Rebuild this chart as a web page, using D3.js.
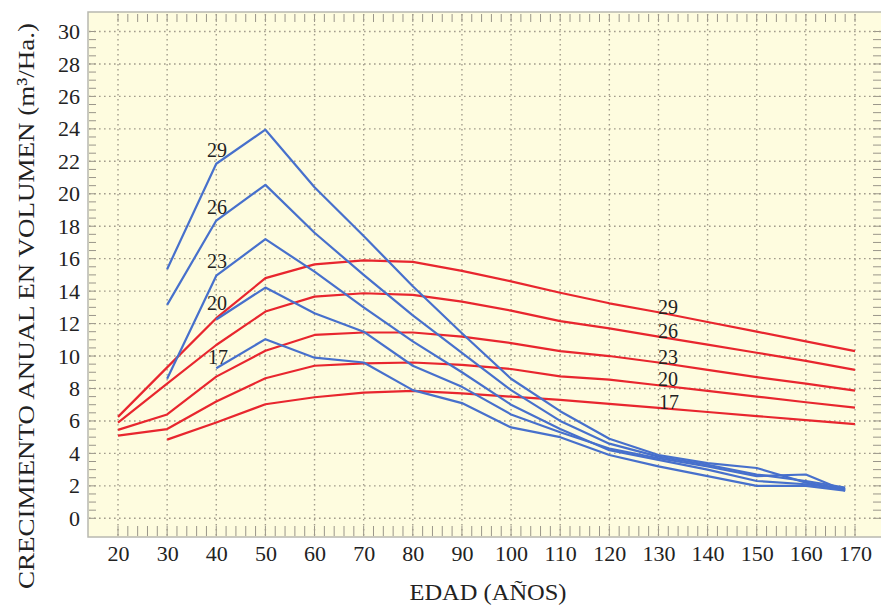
<!DOCTYPE html>
<html><head><meta charset="utf-8">
<script src="https://cdn.jsdelivr.net/npm/d3@7"></script>
<style>
html,body{margin:0;padding:0;background:#fff;}
svg{display:block;}
text{font-family:"Liberation Serif","Times New Roman",serif;fill:#222;}
</style></head>
<body>
<svg id="c" width="881" height="607"></svg>
<script>
// ---- data ----
const ages = [20,30,40,50,60,70,80,90,100,110,120,130,140,150,160,170];
const yTicks = [0,2,4,6,8,10,12,14,16,18,20,22,24,26,28,30];
const siteLabels = ["29","26","23","20","17"];

// red curves (annual volume growth by age)
const red29 = [6.25,9.3,12.33,14.8,15.65,15.9,15.8,15.25,14.6,13.9,13.25,12.7,12.1,11.5,10.9,10.3];
const red26 = [5.9,8.3,10.68,12.74,13.66,13.87,13.77,13.35,12.8,12.15,11.7,11.2,10.7,10.2,9.7,9.15];
const red23 = [5.45,6.4,8.73,10.33,11.3,11.45,11.45,11.2,10.8,10.3,10.0,9.6,9.15,8.7,8.3,7.87];
const red20 = [5.1,5.5,7.2,8.63,9.4,9.55,9.6,9.45,9.2,8.75,8.55,8.2,7.85,7.5,7.15,6.82];
const red17 = [null,4.85,5.9,7.03,7.46,7.74,7.85,7.7,7.5,7.3,7.05,6.8,6.55,6.3,6.05,5.8];

// blue curves
const blueAges = [30,40,50,60,70,80,90,100,110,120,130,140,150,160,168];
const blue29 = [15.35,21.85,23.95,20.4,17.4,14.3,11.4,8.6,6.6,4.9,3.9,3.4,3.1,2.2,1.8];
const blue26 = [13.15,18.35,20.55,17.6,15.0,12.5,10.2,7.9,6.0,4.6,3.8,3.3,2.7,2.3,1.9];
const blue23 = [8.6,14.95,17.2,15.2,13.0,10.9,9.0,7.0,5.5,4.2,3.6,3.0,2.3,2.1,1.8];
const blue20 = [null,12.25,14.22,12.64,11.5,9.4,8.1,6.4,5.3,4.3,3.7,3.2,2.6,2.7,1.7];
const blue17 = [null,9.25,11.04,9.9,9.6,7.9,7.1,5.6,5.0,3.9,3.2,2.6,2.0,2.0,1.7];

const redSeries = [red29, red26, red23, red20, red17];
const blueSeries = [blue29, blue26, blue23, blue20, blue17];

// ---- chart ----
const svg = d3.select("#c");
const x = d3.scaleLinear().domain([20,170]).range([118,855]);
const y = d3.scaleLinear().domain([0,30]).range([518.3,31.5]);

const panel = {l:88, t:12, r:882, b:537};
svg.append("rect").attr("x",panel.l).attr("y",panel.t)
  .attr("width",panel.r-panel.l).attr("height",panel.b-panel.t)
  .attr("fill","#fefcdf").attr("stroke","#b8b8b0").attr("stroke-width",1.5);

const tickCol = "#9a968a";
const minorX = d3.range(20,171,2);
const minorY = d3.range(0,30.01,0.5);
const g = svg.append("g");
g.selectAll(".tt").data(minorX).join("line")
  .attr("x1",d=>x(d)).attr("x2",d=>x(d)).attr("y1",panel.t+2).attr("y2",panel.t+10)
  .attr("stroke",tickCol).attr("stroke-width",1);
g.selectAll(".tb").data(minorX).join("line")
  .attr("x1",d=>x(d)).attr("x2",d=>x(d)).attr("y1",panel.b-11).attr("y2",panel.b-1)
  .attr("stroke",tickCol).attr("stroke-width",1);
g.selectAll(".tl").data(minorY).join("line")
  .attr("x1",panel.l+1).attr("x2",panel.l+8).attr("y1",d=>y(d)).attr("y2",d=>y(d))
  .attr("stroke",tickCol).attr("stroke-width",1);
g.selectAll(".tr").data(minorY).join("line")
  .attr("x1",panel.r-9).attr("x2",panel.r).attr("y1",d=>y(d)).attr("y2",d=>y(d))
  .attr("stroke",tickCol).attr("stroke-width",1);

// dotted grid
g.selectAll(".gv").data(ages).join("line")
  .attr("x1",d=>x(d)).attr("x2",d=>x(d)).attr("y1",panel.t+2).attr("y2",panel.b-1)
  .attr("stroke","#a29c8c").attr("stroke-width",1.4).attr("stroke-dasharray","1.6,3.4");
g.selectAll(".gh").data(yTicks).join("line")
  .attr("x1",panel.l+1).attr("x2",panel.r).attr("y1",d=>y(d)).attr("y2",d=>y(d))
  .attr("stroke","#a29c8c").attr("stroke-width",1.4).attr("stroke-dasharray","1.6,3.4");

// axes labels via d3 axes
const xAxis = svg.append("g").attr("transform",`translate(0,${panel.b})`)
  .call(d3.axisBottom(x).tickValues(ages).tickSize(0).tickPadding(8).tickFormat(d3.format("d")));
xAxis.select(".domain").remove();
xAxis.selectAll("text").attr("font-size",22).attr("fill","#222");

const yAxis = svg.append("g").attr("transform",`translate(${panel.l},0)`)
  .call(d3.axisLeft(y).tickValues(yTicks).tickSize(0).tickPadding(8).tickFormat(d3.format("d")));
yAxis.select(".domain").remove();
yAxis.selectAll("text").attr("font-size",22).attr("fill","#222");

// lines
const line = d3.line().defined(d=>d[1]!=null).x(d=>x(d[0])).y(d=>y(d[1]));
redSeries.forEach(s=>{
  svg.append("path").datum(ages.map((a,i)=>[a,s[i]]))
    .attr("d",line).attr("fill","none").attr("stroke","#e8262e").attr("stroke-width",2.2)
    .attr("stroke-linejoin","round");
});
blueSeries.forEach(s=>{
  svg.append("path").datum(blueAges.map((a,i)=>[a,s[i]]))
    .attr("d",line).attr("fill","none").attr("stroke","#4770cc").attr("stroke-width",2.2)
    .attr("stroke-linejoin","round");
});

// series labels
const blueLabelPos = [[207,157],[207,214],[207,268],[207,310],[208,364]];
const redLabelPos = [[658,314],[658,338],[658,364],[658,386],[659,409]];
siteLabels.forEach((t,i)=>{
  svg.append("text").attr("x",blueLabelPos[i][0]).attr("y",blueLabelPos[i][1])
    .attr("font-size",20).text(t);
  svg.append("text").attr("x",redLabelPos[i][0]).attr("y",redLabelPos[i][1])
    .attr("font-size",20).text(t);
});

// titles
svg.append("text").attr("x",488).attr("y",600).attr("text-anchor","middle")
  .attr("font-size",23).attr("textLength",157).attr("lengthAdjust","spacingAndGlyphs").text("EDAD (AÑOS)");
svg.append("text").attr("transform","translate(34,306) rotate(-90)").attr("text-anchor","middle")
  .attr("font-size",24).attr("textLength",566).attr("lengthAdjust","spacingAndGlyphs")
  .text("CRECIMIENTO ANUAL EN VOLUMEN (m³/Ha.)");
</script>
</body></html>
